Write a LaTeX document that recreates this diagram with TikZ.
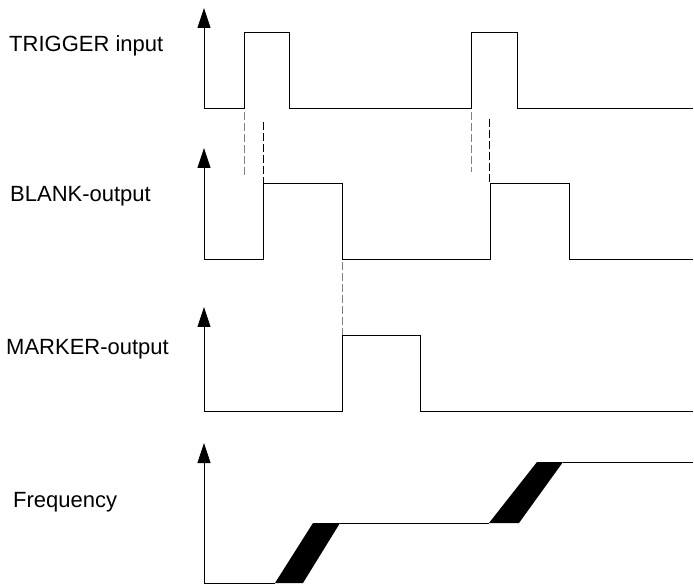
\documentclass[tikz,border=0pt]{standalone}
\usepackage{fontspec}
\setmainfont{Liberation Sans}
\usetikzlibrary{arrows.meta}
\begin{document}
\begin{tikzpicture}[x=1pt,y=-1pt,
  wave/.style={line width=0.8pt,black,line join=miter},
  axisline/.style={line width=0.8pt,black,-{Triangle[length=20pt,width=13pt]}},
  dashgray/.style={line width=0.9pt,gray,dash pattern=on 8pt off 3pt},
  dashblack/.style={line width=0.8pt,black,dash pattern=on 8pt off 3pt},
  lbl/.style={anchor=base west,inner sep=0pt,font=\fontsize{22}{26}\selectfont},
  ramp/.style={fill=black,draw=none}]
\useasboundingbox (0,0) rectangle (694,585);
% labels
\node[lbl] (ltrig) at (9,52) {TRIGGER input};
\node[lbl] (lblank) at (10,202) {BLANK-output};
\node[lbl] (lmark) at (6,355) {MARKER-output};
\node[lbl] (lfreq) at (13,507) {Frequency};
% axes
\draw[axisline] (204,108) -- (204,8);
\draw[axisline] (204,259) -- (204,148);
\draw[axisline] (204,411) -- (204,307);
\draw[axisline] (204,583) -- (204,443);
% trigger
\draw[wave] (204,108) -- (244,108) -- (244,32) -- (289,32) -- (289,108) -- (471,108) -- (471,32) -- (517,32) -- (517,108) -- (693,108);
% blank
\draw[wave] (204,259) -- (263,259) -- (263,183) -- (342,183) -- (342,259) -- (490,259) -- (490,183) -- (569,183) -- (569,259) -- (693,259);
% marker
\draw[wave] (204,411) -- (342,411) -- (342,335) -- (420,335) -- (420,411) -- (693,411);
% frequency
\draw[wave] (204,583) -- (275,583);
\fill[ramp] (275,583) -- (303,583) -- (340,523) -- (313,523) -- cycle;
\draw[wave] (340,523) -- (489,523);
\fill[ramp] (489,523) -- (519,523) -- (563,462) -- (537,462) -- cycle;
\draw[wave] (563,462) -- (693,462);
% dashed links
\draw[dashgray] (244,112) -- (244,175);
\draw[dashblack] (263,122) -- (263,183);
\draw[dashgray] (471,112) -- (471,172);
\draw[dashblack] (489,119) -- (489,183);
\draw[dashgray] (342,262) -- (342,335);
\end{tikzpicture}
\end{document}
